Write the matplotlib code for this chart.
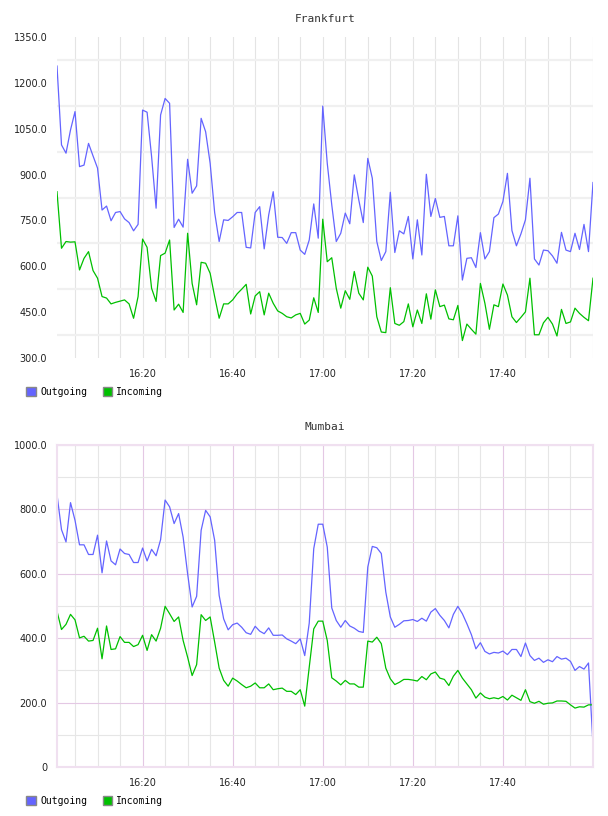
import numpy as np
import matplotlib
matplotlib.use("Agg")
import matplotlib.pyplot as plt
from matplotlib.patches import Patch

# minutes after 16:01, one sample per minute
minutes = np.arange(120)
start_hour, start_min = 16, 1

fra_out = [1255, 997, 970, 1046, 1106, 926, 931, 1002, 961, 921,
           784, 797, 749, 776, 779, 755, 743, 716, 737, 1111,
           1104, 959, 790, 1095, 1149, 1133, 727, 754, 728, 950,
           839, 863, 1084, 1040, 937, 776, 681, 752, 750, 762,
           776, 776, 662, 660, 776, 795, 657, 768, 844, 695,
           694, 675, 710, 710, 653, 639, 686, 804, 692, 1124,
           937, 801, 681, 708, 774, 739, 899, 817, 743, 953,
           888, 681, 619, 648, 842, 645, 716, 706, 763, 624,
           752, 637, 901, 763, 822, 760, 763, 667, 667, 765,
           555, 626, 628, 596, 710, 624, 648, 759, 771, 812,
           904, 717, 667, 706, 752, 888, 624, 604, 653, 651,
           634, 610, 711, 653, 648, 708, 655, 737, 648, 874]
fra_in = [844, 659, 681, 679, 680, 588, 626, 648, 586, 561,
          501, 496, 477, 482, 486, 490, 477, 430, 501, 689,
          662, 528, 485, 635, 643, 686, 457, 476, 449, 708,
          544, 474, 613, 610, 577, 501, 430, 477, 477, 490,
          510, 525, 541, 444, 503, 517, 441, 512, 479, 454,
          446, 435, 431, 441, 446, 411, 424, 497, 449, 754,
          615, 628, 528, 463, 520, 492, 583, 512, 490, 597,
          568, 435, 385, 383, 530, 413, 407, 419, 477, 402,
          457, 413, 510, 427, 523, 468, 473, 428, 425, 472,
          357, 411, 394, 378, 544, 479, 394, 474, 468, 542,
          506, 435, 416, 433, 451, 561, 376, 376, 415, 433,
          411, 372, 459, 413, 418, 463, 446, 433, 422, 561]

mum_out = [846, 737, 699, 821, 766, 690, 690, 660, 660, 720,
           603, 702, 640, 628, 677, 663, 660, 635, 635, 680,
           640, 676, 656, 706, 829, 808, 756, 787, 714, 600,
           497, 530, 735, 797, 777, 704, 533, 460, 426, 442,
           447, 434, 417, 412, 437, 422, 414, 432, 409, 409,
           410, 398, 391, 383, 398, 346, 447, 678, 754, 754,
           683, 494, 455, 434, 455, 438, 431, 421, 418, 621,
           685, 681, 663, 543, 466, 434, 443, 454, 455, 458,
           452, 462, 453, 481, 492, 471, 455, 432, 474, 499,
           476, 445, 411, 367, 386, 359, 351, 356, 354, 360,
           349, 365, 365, 343, 385, 346, 331, 338, 325, 333,
           327, 343, 335, 338, 328, 300, 312, 304, 323, 69]
mum_in = [484, 427, 443, 474, 457, 401, 406, 391, 393, 431,
          336, 438, 365, 367, 405, 387, 387, 374, 380, 409,
          362, 411, 391, 431, 499, 476, 452, 466, 393, 341,
          284, 318, 473, 455, 466, 388, 307, 269, 251, 276,
          267, 256, 246, 251, 261, 246, 246, 258, 240, 243,
          245, 235, 235, 225, 240, 189, 310, 429, 453, 453,
          393, 277, 267, 255, 269, 258, 258, 248, 248, 391,
          388, 403, 383, 307, 274, 256, 263, 272, 272, 270,
          267, 281, 271, 289, 295, 276, 272, 253, 282, 300,
          276, 258, 240, 214, 230, 217, 212, 215, 212, 219,
          208, 223, 215, 207, 240, 203, 198, 204, 195, 198,
          199, 205, 205, 204, 193, 183, 187, 186, 193, 193]

blue = "#6464ff"
green = "#00c000"


def time_label(m):
    total = start_hour * 60 + start_min + m
    return "%d:%02d" % (total // 60, total % 60)


major_x = [19, 39, 59, 79, 99]
minor_x = [m for m in range(4, 120, 5) if m not in major_x]

fig = plt.figure(figsize=(6.08, 8.16), dpi=100)
ax1 = fig.add_axes([57 / 608, 1 - 358 / 816, 536 / 608, 321 / 816])
ax2 = fig.add_axes([57 / 608, 1 - 767 / 816, 536 / 608, 322 / 816])


def setup(ax, title):
    ax.set_xlim(0, 119)
    ax.set_xticks(major_x)
    ax.set_xticklabels([time_label(m) for m in major_x])
    ax.set_xticks(minor_x, minor=True)
    ax.tick_params(which="both", length=0, labelsize=7, colors="#222222")
    ax.tick_params(axis="x", pad=8)
    ax.tick_params(axis="y", pad=7)
    ax.set_axisbelow(True)
    ax.set_title(title, family="DejaVu Sans Mono", fontsize=8, color="#333333", pad=11)


def legend(ax):
    handles = [Patch(facecolor=blue, edgecolor="#888888", label="Outgoing"),
               Patch(facecolor=green, edgecolor="#888888", label="Incoming")]
    ax.legend(handles=handles, loc="center left", bbox_to_anchor=(-0.066, -0.106),
              ncol=2, frameon=False, handlelength=1.0, handleheight=1.0,
              handletextpad=0.4, columnspacing=1.6, borderpad=0,
              prop={"family": "DejaVu Sans Mono", "size": 7})


# Frankfurt
setup(ax1, "Frankfurt")
ax1.set_ylim(300, 1350)
ticks1 = [300, 450, 600, 750, 900, 1050, 1200, 1350]
ax1.set_yticks(ticks1)
ax1.set_yticklabels(["%.1f" % t for t in ticks1])
ax1.set_yticks([375, 525, 675, 825, 975, 1125, 1275], minor=True)
ax1.grid(which="both", axis="x", color="#e4e4e4", lw=0.8)
ax1.grid(which="minor", axis="y", color="#f0f0f0", lw=1.6)
for s in ax1.spines.values():
    s.set_visible(False)
ax1.plot(minutes, fra_out, color=blue, lw=0.9)
ax1.plot(minutes, fra_in, color=green, lw=0.9)
legend(ax1)

# Mumbai
setup(ax2, "Mumbai")
ax2.set_ylim(0, 1000)
ticks2 = [0, 200, 400, 600, 800, 1000]
ax2.set_yticks(ticks2)
ax2.set_yticklabels(["0"] + ["%.1f" % t for t in ticks2[1:]])
ax2.set_yticks([100, 300, 500, 700, 900], minor=True)
ax2.grid(which="major", color="#e4c8e4", lw=0.8)
ax2.grid(which="minor", color="#e6e6e6", lw=0.8)
for s in ax2.spines.values():
    s.set_color("#f0e0f0")
    s.set_linewidth(1.5)
ax2.plot(minutes, mum_out, color=blue, lw=0.9)
ax2.plot(minutes, mum_in, color=green, lw=0.9)
legend(ax2)

fig.savefig("out.png", dpi=100)
